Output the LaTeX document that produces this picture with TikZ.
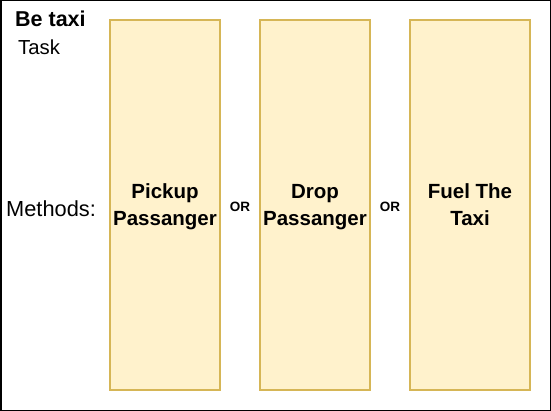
\documentclass[tikz,border=0pt]{standalone}
\usepackage{fontspec}
\setmainfont{Liberation Sans}
\definecolor{boxfill}{HTML}{FFF2CC}
\definecolor{boxline}{HTML}{D6B656}
\newcommand{\topstrut}{\rule{0pt}{21.5pt}}
\begin{document}
\begin{tikzpicture}[x=1pt,y=-1pt,
  methodbox/.style={draw=boxline,fill=boxfill,line width=1.2pt,minimum height=370pt,
    inner sep=0pt,align=center,font=\bfseries\fontsize{20.5}{26.5}\selectfont},
  ortext/.style={font=\bfseries\fontsize{13.5}{16}\selectfont,inner sep=0pt},
  plaintext/.style={inner sep=0pt,anchor=base west}]
\useasboundingbox (0,0) rectangle (551,411);
\draw[line width=1.5pt] (0.75,0.75) rectangle (550.25,410.25);
\node[plaintext,font=\bfseries\fontsize{21.5}{24}\selectfont] (title) at (15,26.7) {Be taxi};
\node[plaintext,font=\fontsize{20.3}{24}\selectfont] (task) at (18,55) {Task};
\node[plaintext,font=\fontsize{21.8}{24}\selectfont] (methods) at (6,216.7) {Methods:};
\node[methodbox,minimum width=110pt] (m1) at (165,205) {\topstrut Pickup\\\strut Passanger};
\node[methodbox,minimum width=110pt] (m2) at (315,205) {\topstrut Drop\\\strut Passanger};
\node[methodbox,minimum width=120pt] (m3) at (470,205) {\topstrut Fuel The\\\strut Taxi};
\node[ortext] (or1) at (240,206.5) {OR};
\node[ortext] (or2) at (390,206.5) {OR};
\end{tikzpicture}
\end{document}
